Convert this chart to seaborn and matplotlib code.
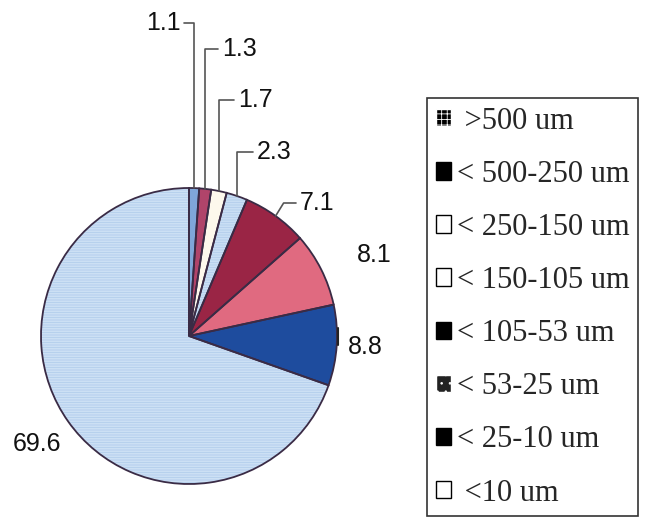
import numpy as np
import matplotlib
matplotlib.use("Agg")
import matplotlib.pyplot as plt
from matplotlib.patches import Patch
import seaborn as sns

# ── Data ─────────────────────────────────────────────────────
size_classes = [">500 um", "< 500-250 um", "< 250-150 um", "< 150-105 um",
                "< 105-53 um", "< 53-25 um", "< 25-10 um", "<10 um"]
percent = [1.1, 1.3, 1.7, 2.3, 7.1, 8.1, 8.8, 69.6]
value_labels = ["1.1", "1.3", "1.7", "2.3", "7.1", "8.1", "8.8", "69.6"]

slice_colors = ["#7fa6d9", "#b0446a", "#fdf8ec", "#d2e5f7",
                "#9a2545", "#e06a80", "#1e4c9e", "#d6e7f8"]
# legend swatches are printed in black and white in the original
legend_face = ["black", "black", "white", "white", "black", "#222222", "black", "white"]
legend_hatch = ["+++", None, None, None, None, "..", None, None]

sns.set_style("white")
plt.rcParams["hatch.linewidth"] = 0.6

fig = plt.figure(figsize=(6.48, 5.2), dpi=100)
ax = fig.add_axes([0, 0, 1, 1])

CX, CY, R = 189, 184, 148
EDGE = "#3a2b45"

# fill with fine horizontal striping on the light blue slices
hatches = ["", "", "", "-" * 10, "", "", "", "-" * 10]
wedges, _ = ax.pie(percent, colors=sns.color_palette(slice_colors),
                   startangle=90, counterclock=False,
                   center=(CX, CY), radius=R,
                   wedgeprops=dict(linewidth=0, edgecolor="#b2cdec"))
for w, h in zip(wedges, hatches):
    w.set_hatch(h)
# outlines on top
ax.pie(percent, startangle=90, counterclock=False, center=(CX, CY), radius=R,
       wedgeprops=dict(fill=False, linewidth=1.3, edgecolor=EDGE))

ax.set_xlim(0, 648)
ax.set_ylim(0, 520)
ax.set_aspect("auto")
ax.axis("off")

# ── Value labels with leader lines ───────────────────────────
# (text x, text y, ha, leader style)
label_pos = [
    (181, 497, "right", "elbow"),
    (222, 471, "left", "elbow"),
    (238, 420, "left", "elbow"),
    (257, 368, "left", "elbow"),
    (300, 317, "left", "diag"),
    (357, 265, "left", None),
    (348, 173, "left", "tick"),
    (13, 76, "left", None),
]
LEAD = "#555555"
for w, txt, (tx, ty, ha, style) in zip(wedges, value_labels, label_pos):
    mid = np.deg2rad((w.theta1 + w.theta2) / 2)
    ex, ey = CX + R * np.cos(mid), CY + R * np.sin(mid)
    if style == "elbow":
        end = tx + 3 if ha == "right" else tx - 4
        ax.plot([ex, ex, end], [ey, ty, ty], color=LEAD, lw=1.2)
    elif style == "diag":
        ax.plot([ex, ex + 8, tx - 4], [ey, ty, ty], color=LEAD, lw=1.2)
    elif style == "tick":
        ax.plot([ex + 1, ex + 1], [ey, ey + 17], color="#222222", lw=1.5)
    ax.text(tx, ty, txt, ha=ha, va="center", fontsize=18,
            family="Liberation Sans", color="#111111")

# ── Legend ───────────────────────────────────────────────────
handles = [Patch(facecolor=fc, edgecolor="black" if h is None else "white",
                 hatch=h, linewidth=1)
           for fc, h in zip(legend_face, legend_hatch)]
leg = fig.legend(handles, [" " + size_classes[0]] + size_classes[1:-1] + [" " + size_classes[-1]],
                 loc="upper left", bbox_to_anchor=(427 / 648, 1 - 98 / 520),
                 frameon=True, fancybox=False, edgecolor="black",
                 prop={"family": "Liberation Serif", "size": 22},
                 handlelength=0.5, handleheight=0.5, handletextpad=0.2,
                 labelspacing=0.79, borderpad=0.28, borderaxespad=0)
leg.get_frame().set_linewidth(1.2)

fig.savefig("out.png", dpi=100)
